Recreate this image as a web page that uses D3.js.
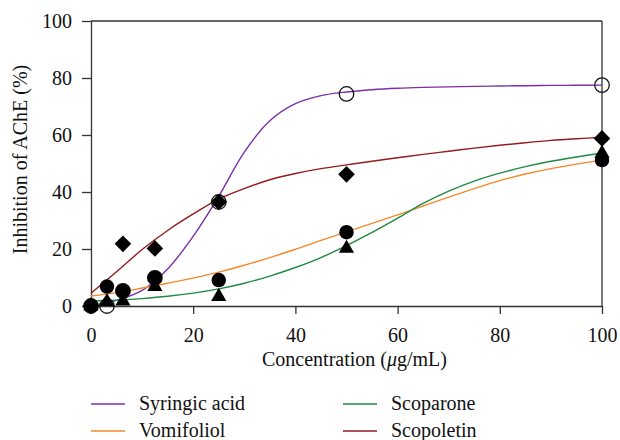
<!DOCTYPE html>
<html>
<head>
<meta charset="utf-8">
<script src="https://cdn.jsdelivr.net/npm/d3@7"></script>
<style>
  body { margin: 0; background: #fff; }
  svg { display: block; font-family: "Liberation Serif", "DejaVu Serif", serif; }
</style>
</head>
<body>
<svg width="620" height="440"></svg>
<script>
// measured points (concentration in ug/mL, inhibition %)
var conc = [0, 3.125, 6.25, 12.5, 25, 50, 100];
var syringic = [0, 0, 5.3, 9.9, 36.5, 74.4, 77.5];
var vomifoliol = [0, 6.8, 5.3, 9.9, 9.1, 25.9, 51.2];
var scoparone = [0, 1.5, 1.7, 6.8, 3.3, 20.2, 53.6];
var scopoletin = [0, null, 21.8, 20.2, 36.5, 46.2, 58.8];

// fitted curves, every 5 ug/mL
var curveX = [0, 5, 10, 15, 20, 25, 30, 35, 40, 45, 50, 55, 60, 65, 70, 75, 80, 85, 90, 95, 100];
var syringicFit = [0.2, 2, 5.5, 13, 24.5, 38.5, 54, 65, 71, 73.8, 75.1, 75.9, 76.4, 76.7, 76.9, 77.05, 77.2, 77.3, 77.4, 77.45, 77.5];
var vomifoliolFit = [3.5, 4.7, 6.3, 8, 9.8, 11.9, 14.3, 17, 19.9, 23, 26, 29, 32, 35.1, 38.2, 41.2, 44, 46.3, 48.2, 49.8, 51.2];
var scoparoneFit = [1.8, 2, 2.6, 3.4, 4.5, 6, 8, 10.5, 13.5, 17, 21.2, 25.8, 30.8, 36, 40.3, 43.8, 46.6, 48.9, 50.8, 52.3, 53.6];
var scopoletinFit = [4.5, 12, 19.8, 26.5, 32.3, 37.5, 41.2, 44.3, 46.5, 48.2, 49.5, 50.8, 52, 53.2, 54.3, 55.4, 56.4, 57.3, 58.1, 58.7, 59.2];

var xTicks = [0, 20, 40, 60, 80, 100];
var yTicks = [0, 20, 40, 60, 80, 100];

var series = [
  { name: "Syringic acid", pts: syringic, fit: syringicFit, color: "#7b30a8", mark: "open" },
  { name: "Vomifoliol", pts: vomifoliol, fit: vomifoliolFit, color: "#f5892a", mark: "circle" },
  { name: "Scoparone", pts: scoparone, fit: scoparoneFit, color: "#1f8a42", mark: "triangle" },
  { name: "Scopoletin", pts: scopoletin, fit: scopoletinFit, color: "#951b1e", mark: "diamond" }
];

var svg = d3.select("svg");
var pLeft = 91, pRight = 602, pTop = 21, pBottom = 306;
var fontSize = "20px";

var x = d3.scaleLinear().domain([0, 100]).range([pLeft, pRight]);
var y = d3.scaleLinear().domain([0, 100]).range([pBottom, pTop]);

var axisColor = "#333";

// frame top and right
svg.append("line").attr("x1", pLeft).attr("x2", pRight).attr("y1", pTop).attr("y2", pTop)
  .attr("stroke", axisColor).attr("stroke-width", 1.3);
svg.append("line").attr("x1", pRight).attr("x2", pRight).attr("y1", pTop).attr("y2", pBottom)
  .attr("stroke", axisColor).attr("stroke-width", 1.3);

var gx = svg.append("g").attr("transform", "translate(0," + pBottom + ")")
  .call(d3.axisBottom(x).tickValues(xTicks).tickSize(8).tickPadding(14).tickSizeOuter(0));
var gy = svg.append("g").attr("transform", "translate(" + pLeft + ",0)")
  .call(d3.axisLeft(y).tickValues(yTicks).tickSize(9).tickPadding(10).tickSizeOuter(0));

[gx, gy].forEach(function (g) {
  g.select(".domain").attr("stroke", axisColor).attr("stroke-width", 1.3);
  g.selectAll(".tick line").attr("stroke", axisColor).attr("stroke-width", 1.3);
  g.selectAll(".tick text").attr("fill", "#111").style("font-size", fontSize)
    .style("font-family", "Liberation Serif, serif");
});

// axis titles
var xt = svg.append("text").attr("x", (pLeft + pRight) / 2 + 8).attr("y", 366)
  .attr("text-anchor", "middle").attr("fill", "#111").style("font-size", fontSize);
xt.append("tspan").text("Concentration (");
xt.append("tspan").style("font-style", "italic").text("\u03bc");
xt.append("tspan").text("g/mL)");

svg.append("text").attr("transform", "translate(27," + ((pTop + pBottom) / 2 - 4) + ") rotate(-90)")
  .attr("text-anchor", "middle").attr("fill", "#111").style("font-size", fontSize)
  .text("Inhibition of AChE (%)");

// fitted lines
var line = d3.line()
  .x(function (d) { return x(d[0]); })
  .y(function (d) { return y(d[1]); })
  .curve(d3.curveCatmullRom.alpha(0.5));

series.forEach(function (s) {
  svg.append("path")
    .datum(curveX.map(function (c, i) { return [c, s.fit[i]]; }))
    .attr("fill", "none")
    .attr("stroke", s.color)
    .attr("stroke-width", 1.4)
    .attr("d", line);
});

// markers
var symCircle = d3.symbol().type(d3.symbolCircle).size(165);
var symTri = d3.symbol().type(d3.symbolTriangle).size(100);
var symSq = d3.symbol().type(d3.symbolSquare).size(138);

series.forEach(function (s) {
  var pts = conc.map(function (c, i) { return [c, s.pts[i]]; })
    .filter(function (d) { return d[1] != null; });
  var m = svg.append("g").selectAll("path").data(pts).enter().append("path")
    .attr("transform", function (d) {
      var t = "translate(" + x(d[0]) + "," + y(d[1]) + ")";
      return s.mark === "diamond" ? t + " rotate(45)" : t;
    });
  if (s.mark === "open") {
    m.attr("d", symCircle).attr("fill", "none").attr("stroke", "#111").attr("stroke-width", 1.3);
  } else if (s.mark === "circle") {
    m.attr("d", symCircle).attr("fill", "#000");
  } else if (s.mark === "triangle") {
    m.attr("d", symTri).attr("fill", "#000");
  } else {
    m.attr("d", symSq).attr("fill", "#000");
  }
});

// legend
var legPos = [[91, 404], [91, 431], [343, 404], [343, 431]];
series.forEach(function (s, i) {
  var p = legPos[i];
  svg.append("line").attr("x1", p[0]).attr("x2", p[0] + 34).attr("y1", p[1]).attr("y2", p[1])
    .attr("stroke", s.color).attr("stroke-width", 1.4);
  svg.append("text").attr("x", p[0] + 48).attr("y", p[1] + 6).attr("fill", "#111")
    .style("font-size", fontSize).text(s.name);
});
</script>
</body>
</html>
